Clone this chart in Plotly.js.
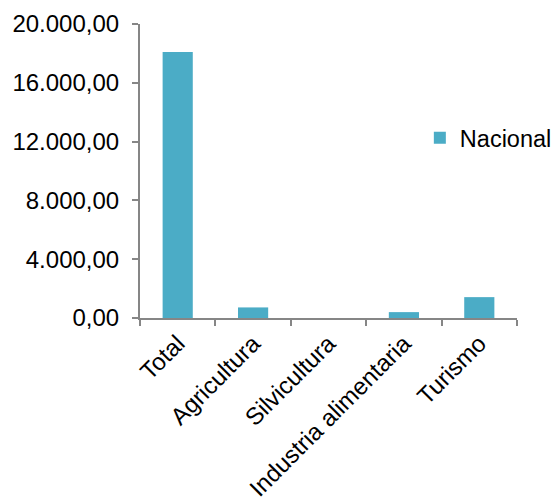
<!DOCTYPE html>
<html>
<head>
<meta charset="utf-8">
<script src="https://cdn.plot.ly/plotly-3.0.1.min.js"></script>
<style>html,body{margin:0;padding:0;background:#fff;}#chart{width:554px;height:497px;}</style>
</head>
<body>
<div id="chart"></div>
<script>
const categories = ["Total", "Agricultura", "Silvicultura", "Industria alimentaria", "Turismo"];
const nacional = [18100, 720, 0, 400, 1420];
const yTicks = [0, 4000, 8000, 12000, 16000, 20000];
const seriesName = "Nacional";

const axisColor = "#868686";
const font = {family: "Liberation Sans, Arial, sans-serif", size: 24, color: "#000"};
const legendFont = {family: "Liberation Sans, Arial, sans-serif", size: 23.5, color: "#000"};

Plotly.newPlot("chart", [{
  type: "bar",
  x: categories,
  y: nacional,
  name: seriesName,
  marker: {color: "#4BACC6"},
  showlegend: true,
  hoverinfo: "x+y"
}], {
  width: 554, height: 497,
  margin: {l: 140, r: 37, t: 24, b: 179, pad: 0, autoexpand: false},
  paper_bgcolor: "#fff", plot_bgcolor: "#fff",
  separators: ",.",
  font: font,
  bargap: 0.6,
  showlegend: true,
  legend: {xref: "container", x: 442 / 554 - 0.04, xanchor: "left", y: 0.612, yanchor: "middle", font: legendFont, bgcolor: "rgba(0,0,0,0)"},
  xaxis: {
    type: "category",
    range: [-0.5, 4.5],
    showline: true, linecolor: axisColor, linewidth: 2,
    ticks: "outside", tickson: "boundaries", ticklen: 6, tickwidth: 2, tickcolor: axisColor,
    tickangle: -45, tickfont: font,
    showgrid: false, zeroline: false
  },
  yaxis: {
    range: [0, 20000],
    tickvals: yTicks,
    tickformat: ",.2f",
    showline: true, linecolor: axisColor, linewidth: 2,
    ticks: "outside", ticklen: 6, tickwidth: 2, tickcolor: axisColor,
    ticklabelstandoff: 8,
    tickfont: font,
    showgrid: false, zeroline: false
  }
}, {displayModeBar: false, staticPlot: true});
</script>
</body>
</html>
